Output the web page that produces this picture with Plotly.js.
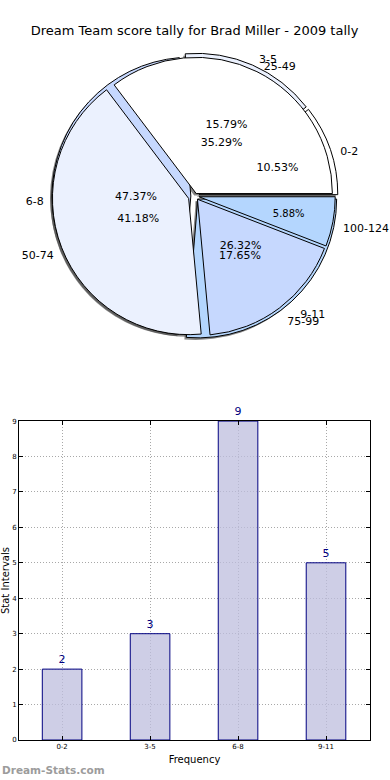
<!DOCTYPE html>
<html>
<head>
<meta charset="utf-8">
<script src="https://cdn.plot.ly/plotly-3.0.1.min.js"></script>
<style>html,body{margin:0;padding:0;background:#fff;}#chart{width:390px;height:780px;}</style>
</head>
<body>
<div id="chart"></div>
<script>
// Data
const statLabels = ['0-2', '3-5', '6-8', '9-11'];
const statCounts = [2, 3, 9, 5];
const scoreLabels = ['25-49', '50-74', '75-99', '100-124'];
const scoreCounts = [6, 7, 3, 1];
const sliceColors = ['#ffffff', '#ebf1fe', '#c6d8fe', '#b4d6fe'];

const titleText = 'Dream Team score tally for Brad Miller - 2009 tally';
const font = 'DejaVu Sans, sans-serif';

// layout geometry (pixels)
const W = 390, H = 780, ML = 19, MR = 20, MT = 0, MB = 40;
const PW = W - ML - MR, PH = H - MT - MB;
const pieCx = 195, pieCy = 196, pieHalf = 143;
function domainFor(cx, cy, half) {
  return {
    x: [(cx - half - ML) / PW, (cx + half - ML) / PW],
    y: [(H - MB - (cy + half)) / PH, (H - MB - (cy - half)) / PH]
  };
}
const pieDomain = domainFor(pieCx, pieCy, pieHalf);
const shadowDomain = domainFor(pieCx - 2, pieCy + 2, pieHalf);
const labelDomain = domainFor(pieCx + 1, pieCy + 5, pieHalf + 6);
const pctDomain = domainFor(pieCx, pieCy, pieHalf * 0.8);

const pull1 = [0.03, 0.03, 0.03, 0.03];
const pull2 = [0.02, 0.05, 0.03, 0.03];

// Plotly's counterclockwise pies place the first slice clockwise of the rotation
// point; shift so the first slice starts at 3 o'clock like matplotlib.
function startRotation(values) {
  const total = values.reduce((a, b) => a + b, 0);
  return 90 - 360 * values[0] / total;
}

function basePie(labels, values, extra) {
  return Object.assign({
    type: 'pie', labels: labels, values: values, sort: false,
    direction: 'counterclockwise', rotation: startRotation(values), domain: pieDomain,
    hoverinfo: 'none', showlegend: false
  }, extra);
}
const clear = labels => labels.map(() => 'rgba(0,0,0,0)');

const traces = [
  // shadow
  basePie(statLabels, statCounts, {domain: shadowDomain, pull: pull1, textinfo: 'none',
    marker: {colors: statLabels.map(() => 'rgba(70,70,70,0.65)'), line: {width: 0}}}),
  basePie(scoreLabels, scoreCounts, {domain: shadowDomain, pull: pull2, textinfo: 'none',
    marker: {colors: scoreLabels.map(() => 'rgba(70,70,70,0.65)'), line: {width: 0}}}),
  // fills
  basePie(statLabels, statCounts, {pull: pull1, textinfo: 'none',
    marker: {colors: sliceColors, line: {color: '#000', width: 1}}}),
  basePie(scoreLabels, scoreCounts, {pull: pull2, textinfo: 'none',
    marker: {colors: sliceColors, line: {color: '#000', width: 1}}}),
  // percentages
  basePie(statLabels, statCounts, {domain: pctDomain, pull: pull1, textposition: 'inside',
    insidetextorientation: 'horizontal', texttemplate: '%{percent:.2%}',
    insidetextfont: {family: font, size: 11, color: '#000'},
    marker: {colors: clear(statLabels), line: {width: 0}}}),
  basePie(scoreLabels, scoreCounts, {domain: pctDomain, pull: pull2, textposition: 'inside',
    insidetextorientation: 'horizontal', texttemplate: '%{percent:.2%}',
    insidetextfont: {family: font, size: 11, color: '#000'},
    marker: {colors: clear(scoreLabels), line: {width: 0}}}),
  // outside labels
  basePie(statLabels, statCounts, {domain: labelDomain, pull: pull1, textinfo: 'label', textposition: 'outside',
    outsidetextfont: {family: font, size: 11, color: '#000'}, automargin: false,
    marker: {colors: clear(statLabels), line: {width: 0}}}),
  basePie(scoreLabels, scoreCounts, {domain: labelDomain, pull: pull2, textinfo: 'label', textposition: 'outside',
    outsidetextfont: {family: font, size: 11, color: '#000'}, automargin: false,
    marker: {colors: clear(scoreLabels), line: {width: 0}}}),
  // bar chart
  {
    type: 'bar', x: statLabels, y: statCounts, text: statCounts.map(String),
    textposition: 'outside', cliponaxis: false, width: 0.45,
    textfont: {family: font, size: 11, color: '#000080'},
    marker: {color: 'rgba(190,190,222,0.75)', line: {color: '#000080', width: 1}},
    hoverinfo: 'none', showlegend: false, xaxis: 'x', yaxis: 'y'
  }
];

const layout = {
  width: W, height: H,
  margin: {l: ML, r: MR, t: MT, b: MB},
  paper_bgcolor: '#fff', plot_bgcolor: '#fff',
  font: {family: font, color: '#000'},
  title: {text: titleText, font: {family: font, size: 13, color: '#000'},
    x: 0.5, xref: 'paper', y: 0.961, yref: 'container', yanchor: 'middle'},
  xaxis: {
    domain: [0, 1], range: [-0.49, 3.5], type: 'category',
    showgrid: true, gridcolor: '#a8a8a8', griddash: '1px,2px', gridwidth: 1,
    ticks: 'inside', ticklen: 4, tickcolor: '#000', mirror: 'allticks',
    showline: true, linecolor: '#000', linewidth: 1,
    tickfont: {family: font, size: 7, color: '#000'},
    title: {text: 'Frequency', font: {family: font, size: 10, color: '#000'}, standoff: 5},
    zeroline: false, automargin: false
  },
  yaxis: {
    domain: [0, 0.431], range: [0, 9], dtick: 1,
    showgrid: true, gridcolor: '#a8a8a8', griddash: '1px,2px', gridwidth: 1,
    ticks: 'inside', ticklen: 4, tickcolor: '#000', mirror: 'allticks',
    showline: true, linecolor: '#000', linewidth: 1,
    tickfont: {family: font, size: 7, color: '#000'},
    title: {text: 'Stat Intervals', font: {family: font, size: 10, color: '#000'}, standoff: 2},
    zeroline: false, automargin: false
  },
  annotations: [{
    text: 'Dream-Stats.com', xref: 'paper', yref: 'paper', x: -0.054, y: -0.041,
    xanchor: 'left', yanchor: 'middle', showarrow: false,
    font: {family: font, size: 10.5, color: '#9c9c9c', weight: 'bold'}
  }]
};

Plotly.newPlot('chart', traces, layout, {displayModeBar: false, staticPlot: true});
</script>
</body>
</html>
